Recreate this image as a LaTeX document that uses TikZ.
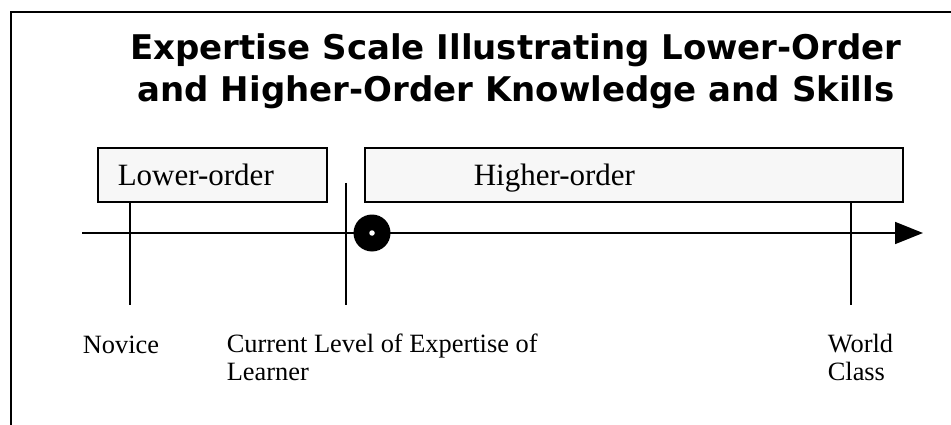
\documentclass[tikz,border=0pt]{standalone}
\usepackage{fontspec}
\setmainfont{Liberation Serif}
\newfontfamily\headfont{DejaVu Sans}
\usetikzlibrary{positioning,arrows.meta}

\begin{document}
\begin{tikzpicture}
    [x=1pt, y=-1pt, line width=1.6pt,
    orderbox/.style={draw=black, line width=2.2pt, fill=black!3, minimum height=54pt, inner sep=0pt, anchor=north west},
    boxtext/.style={font=\fontsize{31}{36}\selectfont, inner sep=0pt, text height=20pt, text depth=0pt},
    scaletext/.style={font=\fontsize{26.4}{27.5}\selectfont, inner sep=0pt, align=left, anchor=base west},
    tick/.style={draw=black, line width=1.8pt}]
    \useasboundingbox (0,0) rectangle (951,425);
    % frame
    \draw [line width=2.4pt] (11,425) -- (11,12) -- (951,12);
    \node [font=\headfont\bfseries\fontsize{34}{42}\selectfont, align=center, anchor=base, inner sep=0pt] (title) at (516,102)
        {Expertise Scale Illustrating Lower-Order\\and Higher-Order Knowledge and Skills};
    % the two boxes
    \node [orderbox, minimum width=229pt] (lowbox) at (97,147) {};
    \node [orderbox, minimum width=538pt] (highbox) at (364,147) {};
    \node [boxtext, right=20pt of lowbox.west] (lowtext) {Lower-order};
    \node [boxtext, right=109pt of highbox.west] (hightext) {Higher-order};
    % scale
    \coordinate (axisstart) at (82,233);
    \coordinate (axisend) at (923,233);
    \coordinate (novice) at (130,305);
    \coordinate (currenttop) at (346,183);
    \coordinate (current) at (346,305);
    \coordinate (world) at (851,305);
    \draw [-{Triangle[length=28pt,width=22pt]}] (axisstart) -- (axisend);
    \draw [tick] (novice |- lowbox.south) -- (novice);
    \draw [tick] (currenttop) -- (current);
    \draw [tick] (world |- highbox.south) -- (world);
    \node [circle, fill=black, minimum size=37pt, inner sep=0pt] (level) at (372,233) {};
    \node [circle, fill=white, minimum size=5.5pt, inner sep=0pt] (leveldot) at (level) {};
    % labels
    \node [scaletext] (novicetext) at (82,353) {Novice};
    \node [scaletext] (currenttext) at (226,380) {Current Level of Expertise of\\Learner};
    \node [scaletext] (worldtext) at (827,380) {World\\Class};
\end{tikzpicture}
\end{document}
